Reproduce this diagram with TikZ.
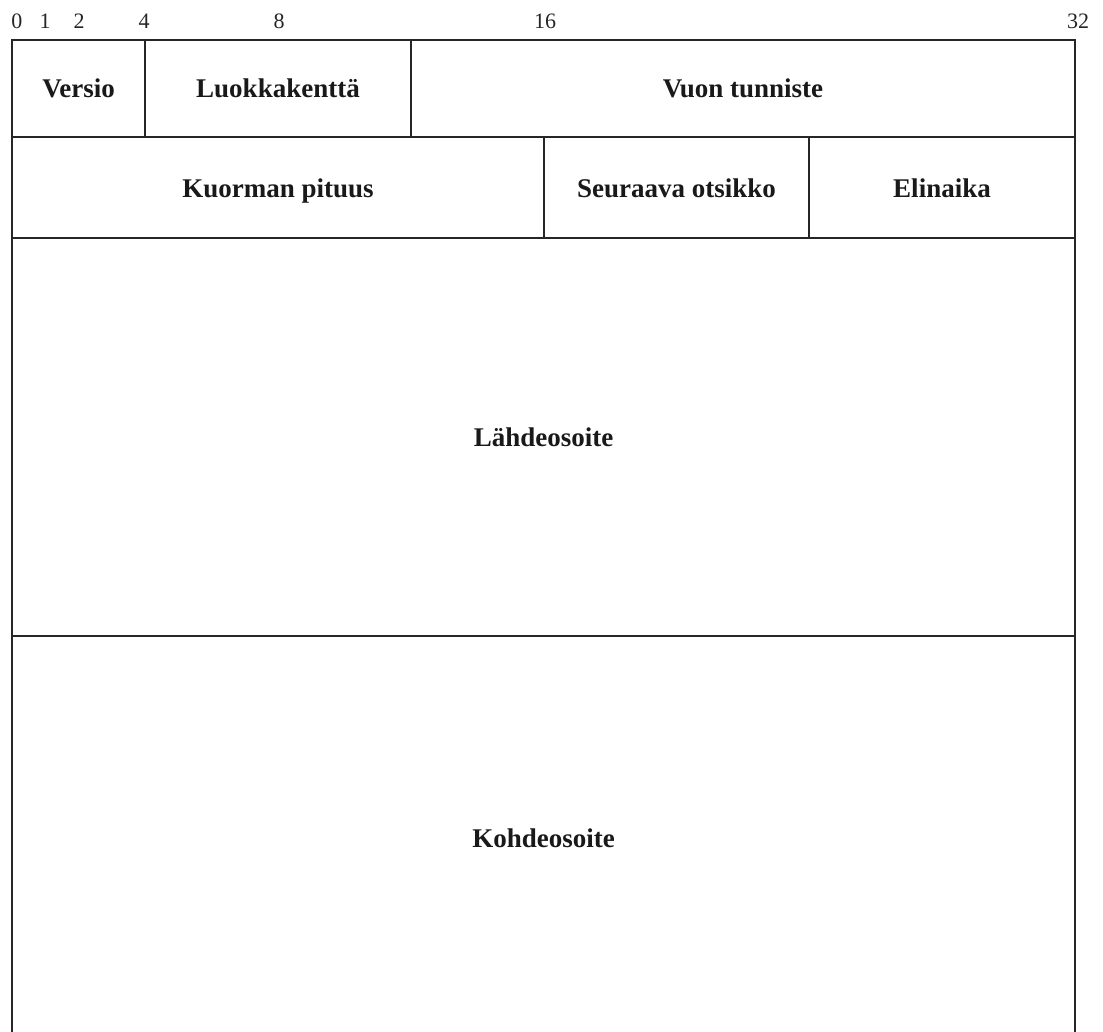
\documentclass[tikz,border=0pt]{standalone}
\usepackage{fontspec}
\setmainfont{Liberation Serif}
\begin{document}
\begin{tikzpicture}[x=1pt,y=-1pt,
  frame/.style={draw=black!85, line width=1.9pt},
  lbl/.style={inner sep=0pt, font=\fontsize{27}{30}\selectfont\bfseries, text=black!90, text height=19pt, text depth=0pt, anchor=center},
  num/.style={inner sep=0pt, font=\fontsize{22}{24}\selectfont, text=black!85, anchor=base}]
\path[use as bounding box, fill=white] (0,0) rectangle (1103,1032);
% bit scale
\node[num] (n0) at (17,29) {0};
\node[num] (n1) at (45,29) {1};
\node[num] (n2) at (79,29) {2};
\node[num] (n4) at (144,29) {4};
\node[num] (n8) at (279,29) {8};
\node[num] (n16) at (545,29) {16};
\node[num] (n32) at (1078,29) {32};
% frame
\draw[frame] (12,1032) -- (12,40) -- (1075,40) -- (1075,1032);
\draw[frame] (12,137) -- (1075,137);
\draw[frame] (12,238) -- (1075,238);
\draw[frame] (12,636) -- (1075,636);
\draw[frame] (145,40) -- (145,137);
\draw[frame] (411,40) -- (411,137);
\draw[frame] (544,137) -- (544,238);
\draw[frame] (809,137) -- (809,238);
% labels
\node[lbl] (versio) at (78.5,88) {Versio};
\node[lbl] (luokka) at (278,88) {Luokkakenttä};
\node[lbl] (vuon) at (743,88) {Vuon tunniste};
\node[lbl] (kuorma) at (278,188) {Kuorman pituus};
\node[lbl] (seuraava) at (676.5,188) {Seuraava otsikko};
\node[lbl] (elinaika) at (942,188) {Elinaika};
\node[lbl] (lahde) at (543.5,437) {Lähdeosoite};
\node[lbl] (kohde) at (543.5,838) {Kohdeosoite};
\end{tikzpicture}
\end{document}
